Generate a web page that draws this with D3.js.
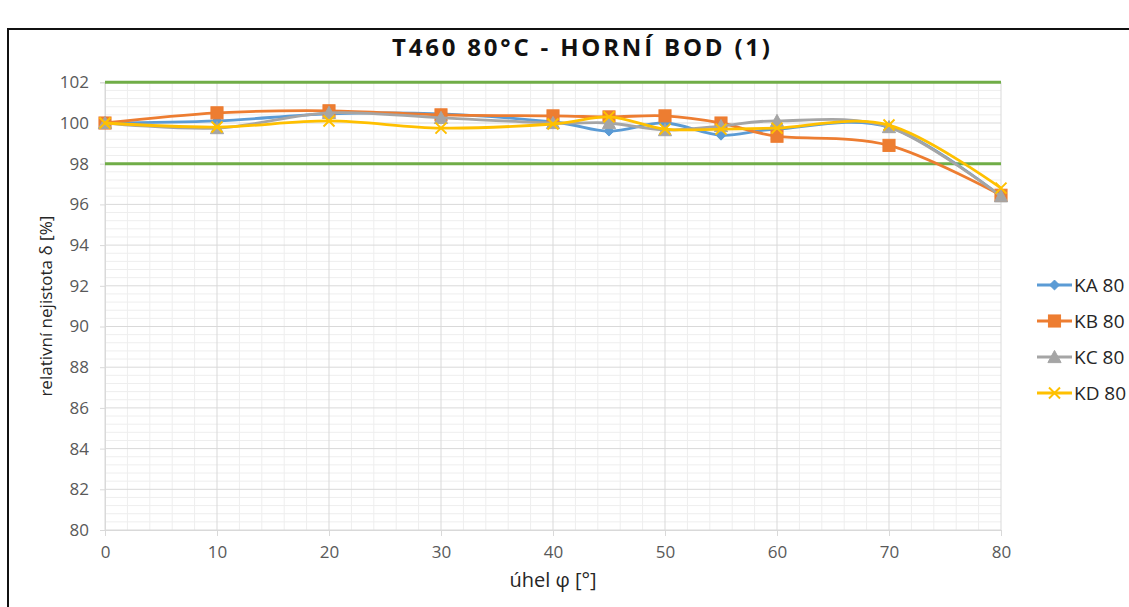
<!DOCTYPE html>
<html>
<head>
<meta charset="utf-8">
<script src="https://cdn.jsdelivr.net/npm/d3@7"></script>
<style>
  html, body { margin: 0; padding: 0; background: #fff; }
  svg { display: block; }
</style>
</head>
<body>
<svg id="chart" width="1129" height="607"></svg>
<script>
// Angles (degrees) at which the relative uncertainty was measured
const angles = [0, 10, 20, 30, 40, 45, 50, 55, 60, 70, 80];

// Relative uncertainty δ [%] per probe
const ka80 = [100, 100.1, 100.45, 100.45, 100.05, 99.6, 100.0, 99.4, 99.7, 99.8, 96.4];
const kb80 = [100, 100.5, 100.6, 100.4, 100.35, 100.3, 100.35, 100.0, 99.35, 98.9, 96.45];
const kc80 = [100, 99.75, 100.5, 100.25, 100.0, 100.0, 99.65, 99.85, 100.1, 99.8, 96.4];
const kd80 = [100, 99.8, 100.1, 99.75, 99.95, 100.3, 99.7, 99.7, 99.75, 99.9, 96.8];

// Tolerance limits (horizontal lines)
const limitX = [0, 80];
const upperLimit = [102, 102];
const lowerLimit = [98, 98];

const seriesNames = ["KA 80", "KB 80", "KC 80", "KD 80"];
const xTicks = [0, 10, 20, 30, 40, 50, 60, 70, 80];
const yTicks = [80, 82, 84, 86, 88, 90, 92, 94, 96, 98, 100, 102];

const titleText = "T460 80°C - HORNÍ BOD (1)";
const xLabel = "úhel φ [°]";
const yLabel = "relativní nejistota δ [%]";

const series = [
  { name: seriesNames[0], values: ka80, color: "#5B9BD5", marker: "diamond" },
  { name: seriesNames[1], values: kb80, color: "#ED7D31", marker: "square" },
  { name: seriesNames[2], values: kc80, color: "#A5A5A5", marker: "triangle" },
  { name: seriesNames[3], values: kd80, color: "#FFC000", marker: "x" }
];

const svg = d3.select("#chart");
const FONT = "'Open Sans', 'Noto Sans', sans-serif";

// Chart frame
svg.append("rect")
  .attr("x", 8).attr("y", 29)
  .attr("width", 1300).attr("height", 800)
  .attr("fill", "#fff")
  .attr("stroke", "#111").attr("stroke-width", 2);

const plot = { left: 105, right: 1001, top: 82.3, bottom: 530 };

const x = d3.scaleLinear().domain([0, 80]).range([plot.left, plot.right]);
const y = d3.scaleLinear().domain([80, 102]).range([plot.bottom, plot.top]);

const g = svg.append("g");

// Minor gridlines
g.append("g").selectAll("line")
  .data(d3.range(80, 102.001, 0.4).filter(v => Math.abs(v / 2 - Math.round(v / 2)) > 1e-6))
  .join("line")
  .attr("x1", plot.left).attr("x2", plot.right)
  .attr("y1", d => y(d)).attr("y2", d => y(d))
  .attr("stroke", "#eeeeee").attr("stroke-width", 1);

g.append("g").selectAll("line")
  .data(d3.range(0, 80.001, 2).filter(v => v % 10 !== 0))
  .join("line")
  .attr("x1", d => x(d)).attr("x2", d => x(d))
  .attr("y1", plot.top).attr("y2", plot.bottom)
  .attr("stroke", "#eeeeee").attr("stroke-width", 1);

// Major gridlines
g.append("g").selectAll("line")
  .data(yTicks)
  .join("line")
  .attr("x1", plot.left).attr("x2", plot.right)
  .attr("y1", d => y(d)).attr("y2", d => y(d))
  .attr("stroke", "#d9d9d9").attr("stroke-width", 1);

g.append("g").selectAll("line")
  .data(xTicks)
  .join("line")
  .attr("x1", d => x(d)).attr("x2", d => x(d))
  .attr("y1", plot.top).attr("y2", plot.bottom)
  .attr("stroke", "#d9d9d9").attr("stroke-width", 1);

// Axes
const xAxis = d3.axisBottom(x).tickValues(xTicks).tickSize(6).tickPadding(10).tickFormat(d3.format("d"));
const yAxis = d3.axisLeft(y).tickValues(yTicks).tickSize(5).tickPadding(11).tickFormat(d3.format("d"));

const gx = svg.append("g").attr("transform", `translate(0,${plot.bottom})`).call(xAxis);
const gy = svg.append("g").attr("transform", `translate(${plot.left},0)`).call(yAxis);

[gx, gy].forEach(a => {
  a.select(".domain").attr("stroke", "#d9d9d9");
  a.selectAll(".tick line").attr("stroke", "#d9d9d9");
  a.selectAll(".tick text")
    .attr("fill", "#595959")
    .style("font-family", FONT)
    .style("font-size", "17px");
});

// Tolerance limits
const limitLine = d3.line().x((d, i) => x(limitX[i])).y(d => y(d));
[upperLimit, lowerLimit].forEach(arr => {
  svg.append("path")
    .attr("d", limitLine(arr))
    .attr("fill", "none")
    .attr("stroke", "#70AD47")
    .attr("stroke-width", 3);
});

// Smoothed series lines
const line = d3.line()
  .x((d, i) => x(angles[i]))
  .y(d => y(d))
  .curve(d3.curveCardinal.tension(0));

function drawMarker(sel, type, color, size) {
  if (type === "diamond") {
    const s = size * 0.55;
    sel.append("path")
      .attr("d", `M0,${-s}L${s},0L0,${s}L${-s},0Z`)
      .attr("fill", color).attr("stroke", color).attr("stroke-width", 1);
  } else if (type === "square") {
    const s = size * 0.55;
    sel.append("rect")
      .attr("x", -s).attr("y", -s).attr("width", 2 * s).attr("height", 2 * s)
      .attr("fill", color).attr("stroke", color).attr("stroke-width", 1);
  } else if (type === "triangle") {
    const s = size * 0.6;
    sel.append("path")
      .attr("d", `M0,${-s}L${s},${s * 0.85}L${-s},${s * 0.85}Z`)
      .attr("fill", color).attr("stroke", color).attr("stroke-width", 1);
  } else if (type === "x") {
    const s = size * 0.5;
    sel.append("path")
      .attr("d", `M${-s},${-s}L${s},${s}M${-s},${s}L${s},${-s}`)
      .attr("fill", "none").attr("stroke", color).attr("stroke-width", 2);
  }
}

series.forEach(s => {
  svg.append("path")
    .attr("d", line(s.values))
    .attr("fill", "none")
    .attr("stroke", s.color)
    .attr("stroke-width", 2.8)
    .attr("stroke-linejoin", "round");

  svg.append("g").selectAll("g")
    .data(s.values)
    .join("g")
    .attr("transform", (d, i) => `translate(${x(angles[i])},${y(d)})`)
    .each(function () { drawMarker(d3.select(this), s.marker, s.color, s.marker === "diamond" ? 9 : 11); });
});

// Title, spaced out to span its box
const title = svg.append("text")
  .attr("x", 581).attr("y", 56)
  .attr("text-anchor", "middle")
  .attr("fill", "#111")
  .style("font-family", FONT)
  .style("font-weight", "bold")
  .style("font-size", "24px")
  .text(titleText);
const titleWidth = title.node().getComputedTextLength();
const spacing = Math.max(0, (378 - titleWidth) / (titleText.length - 1));
title.style("letter-spacing", spacing + "px").attr("x", 581 + spacing / 2);

// Axis titles
svg.append("text")
  .attr("x", 553).attr("y", 587)
  .attr("text-anchor", "middle")
  .attr("fill", "#262626")
  .style("font-family", FONT)
  .style("font-size", "20px")
  .text(xLabel);

svg.append("text")
  .attr("transform", `translate(52,${(plot.top + plot.bottom) / 2}) rotate(-90)`)
  .attr("text-anchor", "middle")
  .attr("fill", "#262626")
  .style("font-family", FONT)
  .style("font-size", "17px")
  .text(yLabel);

// Legend
const legend = svg.append("g");
series.forEach((s, i) => {
  const ly = 285 + i * 36;
  const row = legend.append("g").attr("transform", `translate(1037,${ly})`);
  row.append("line")
    .attr("x1", 0).attr("x2", 35).attr("y1", 0).attr("y2", 0)
    .attr("stroke", s.color).attr("stroke-width", 2.8);
  const m = row.append("g").attr("transform", "translate(17.5,0)");
  drawMarker(m, s.marker, s.color, s.marker === "diamond" ? 9 : 11);
  row.append("text")
    .attr("x", 37).attr("y", 0).attr("dy", "0.35em")
    .attr("fill", "#262626")
    .style("font-family", FONT)
    .style("font-size", "19px")
    .text(s.name);
});
</script>
</body>
</html>
